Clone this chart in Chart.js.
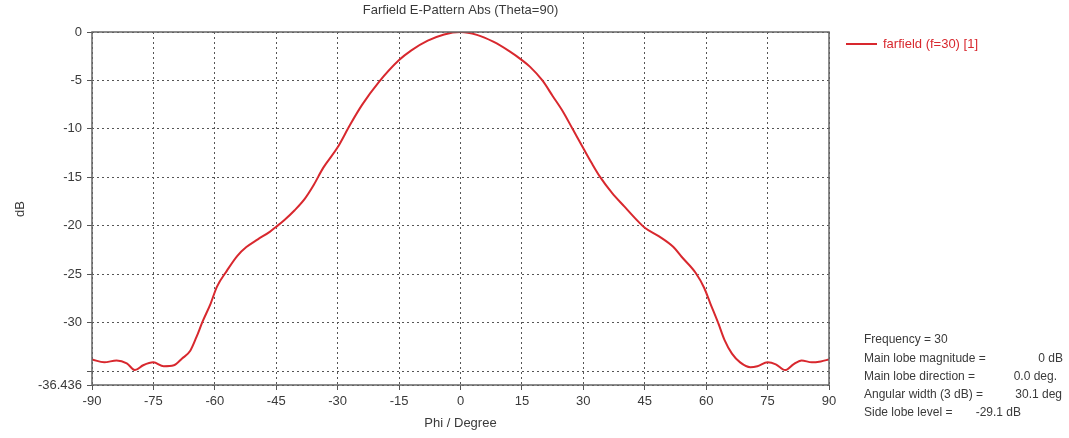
<!DOCTYPE html>
<html>
<head>
<meta charset="utf-8">
<script src="https://cdn.jsdelivr.net/npm/chart.js@4/dist/chart.umd.min.js"></script>
<style>
  html, body { margin: 0; padding: 0; background: #fff; }
  #wrap { width: 1069px; height: 438px; position: relative; }
</style>
</head>
<body>
<div id="wrap"><canvas id="myChart"></canvas></div>
<script>
// phi in degrees, gain in dB
const phi = [-90, -87, -84, -81.5, -79.5, -77.5, -75, -72.5, -70, -68, -66, -64.5, -63, -61, -59.5,
  -57, -54.5, -52.3, -49.5, -46.5, -45, -43, -40.5, -38, -36, -33.5, -30, -27, -24, -20, -15, -12,
  -8, -4, 0, 4, 8, 12, 15, 17, 20, 22.5, 25, 27.5, 30, 32, 34, 37, 40, 43.5, 45, 48.5, 52, 54,
  57.5, 59.5, 61, 63, 64.5, 66.3, 68.3, 70.8, 72.5, 75, 77, 79.3, 81.3, 83.3, 85.8, 88, 90];
const gain = [-33.8, -34.1, -33.9, -34.2, -34.9, -34.4, -34.1, -34.5, -34.4, -33.7, -32.9, -31.5, -29.9, -28.0, -26.3,
  -24.6, -23.1, -22.2, -21.4, -20.6, -20.1, -19.4, -18.4, -17.2, -15.9, -14.0, -11.9, -9.6, -7.5, -5.2, -2.9, -1.9,
  -0.9, -0.25, 0, -0.3, -1.0, -2.0, -2.9, -3.6, -5.0, -6.6, -8.2, -10.1, -12.0, -13.5, -14.9, -16.6, -18.0, -19.6, -20.2, -21.1, -22.2, -23.2,
  -24.9, -26.4, -28.0, -30.1, -31.8, -33.2, -34.1, -34.6, -34.5, -34.1, -34.3, -34.9, -34.3, -33.9, -34.1, -34.0, -33.8];

const yTicks = [-36.436, -35, -30, -25, -20, -15, -10, -5, 0];
const xTicks = [-90, -75, -60, -45, -30, -15, 0, 15, 30, 45, 60, 75, 90];

const chartTitle = 'Farfield E-Pattern Abs (Theta=90)';
const seriesLabel = 'farfield (f=30) [1]';
const infoLabels = ['Frequency = 30', 'Main lobe magnitude =', 'Main lobe direction =', 'Angular width (3 dB) =', 'Side lobe level ='];
const infoValues = ['', '0 dB', '0.0 deg.', '30.1 deg', '-29.1 dB'];
const infoValueRight = [0, 1063, 1057, 1062, 1021];

const RED = '#d8282e';
const TEXT = '#3a3a3a';
const FONT = '"Liberation Sans", Arial, sans-serif';

const extras = {
  id: 'extras',
  afterDraw(chart) {
    const ctx = chart.ctx;
    const a = chart.chartArea;
    ctx.save();
    // plot frame
    ctx.strokeStyle = '#666';
    ctx.lineWidth = 1.5;
    ctx.setLineDash([]);
    ctx.strokeRect(a.left, a.top, a.right - a.left, a.bottom - a.top);

    ctx.font = '13px ' + FONT;
    ctx.fillStyle = TEXT;
    ctx.textBaseline = 'middle';
    ctx.textAlign = 'center';
    ctx.fillText(chartTitle, (a.left + a.right) / 2, 10);
    ctx.fillText('Phi / Degree', (a.left + a.right) / 2, 423);

    ctx.save();
    ctx.translate(20, 209);
    ctx.rotate(-Math.PI / 2);
    ctx.fillText('dB', 0, 0);
    ctx.restore();

    // legend
    ctx.strokeStyle = RED;
    ctx.lineWidth = 2;
    ctx.beginPath();
    ctx.moveTo(846, 44);
    ctx.lineTo(877, 44);
    ctx.stroke();
    ctx.fillStyle = RED;
    ctx.textAlign = 'left';
    ctx.fillText(seriesLabel, 883, 44);

    // info block
    ctx.font = '12px ' + FONT;
    ctx.fillStyle = TEXT;
    infoLabels.forEach((t, i) => {
      const y = 340 + i * 18.2;
      ctx.textAlign = 'left';
      ctx.fillText(t, 864, y);
      if (infoValues[i]) {
        ctx.textAlign = 'right';
        ctx.fillText(infoValues[i], infoValueRight[i], y);
      }
    });
    ctx.restore();
  }
};

const ctx = document.getElementById('myChart');
const myChart = new Chart(ctx, {
  type: 'line',
  data: {
    datasets: [{
      label: seriesLabel,
      data: phi.map((p, i) => ({ x: p, y: gain[i] })),
      borderColor: RED,
      backgroundColor: RED,
      borderWidth: 2,
      pointRadius: 0,
      cubicInterpolationMode: 'monotone'
    }]
  },
  plugins: [extras],
  options: {
    responsive: true,
    maintainAspectRatio: false,
    animation: false,
    layout: { padding: { left: 0, right: 240, top: 32, bottom: 0 } },
    plugins: {
      legend: { display: false },
      title: { display: false },
      tooltip: { enabled: false }
    },
    scales: {
      x: {
        type: 'linear',
        min: -90,
        max: 90,
        afterBuildTicks: (scale) => { scale.ticks = xTicks.map(v => ({ value: v })); },
        afterFit: (scale) => { scale.height = 53; },
        grid: { color: '#555', lineWidth: 1, tickLength: 5, tickColor: '#555' },
        border: { display: false, dash: [2, 3] },
        ticks: { color: TEXT, font: { family: FONT, size: 13 }, padding: 4, maxRotation: 0, autoSkip: false }
      },
      y: {
        min: -36.436,
        max: 0,
        afterBuildTicks: (scale) => { scale.ticks = yTicks.map(v => ({ value: v })); },
        afterFit: (scale) => { scale.width = 92; },
        grid: { color: '#555', lineWidth: 1, tickLength: 5, tickColor: '#555' },
        border: { display: false, dash: [2, 3] },
        ticks: {
          color: TEXT,
          font: { family: FONT, size: 13 },
          padding: 5,
          autoSkip: false,
          callback: (v) => v === -35 ? '' : String(v)
        }
      }
    }
  }
});
</script>
</body>
</html>
